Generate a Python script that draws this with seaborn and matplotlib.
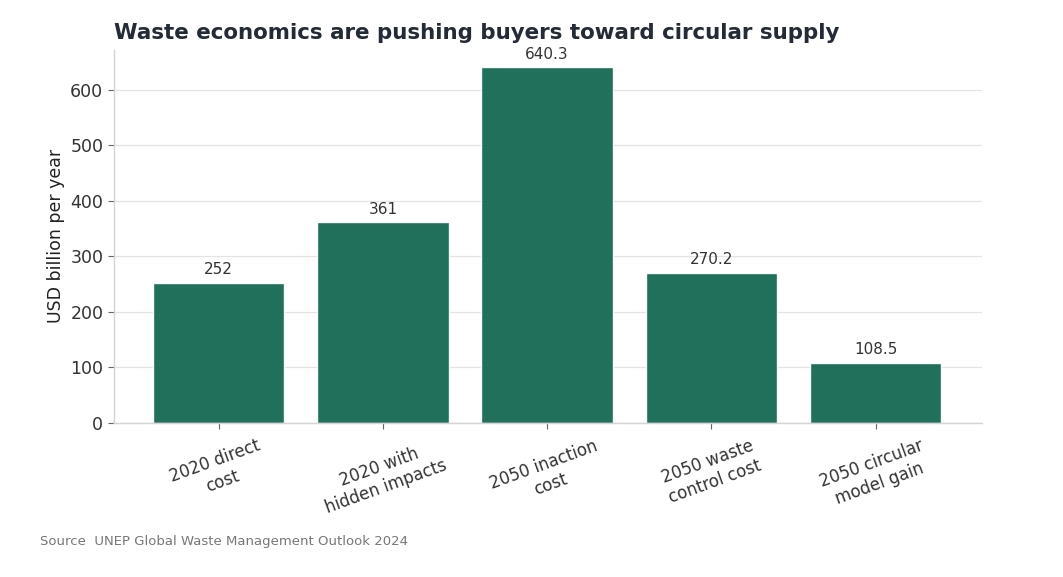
import matplotlib
matplotlib.use("Agg")
import matplotlib.pyplot as plt
import seaborn as sns
import pandas as pd

# ===================== Data =====================
categories = ["2020 direct\ncost", "2020 with\nhidden impacts", "2050 inaction\ncost",
              "2050 waste\ncontrol cost", "2050 circular\nmodel gain"]
values = [252, 361, 640.3, 270.2, 108.5]
value_labels = ["252", "361", "640.3", "270.2", "108.5"]

df = pd.DataFrame({"category": categories, "value": values})

# ===================== Style =====================
sns.set_theme(style="white")
plt.rcParams["font.family"] = ["DejaVu Sans"]

fig = plt.figure(figsize=(10.63, 5.77), dpi=100)
ax = fig.add_axes([0.107, 0.267, 0.817, 0.647])

bar_color = "#156853"
sns.barplot(data=df, x="category", y="value", color=bar_color, saturation=1,
            width=0.8, alpha=0.95, ax=ax)

# value labels above bars
for i, (v, lab) in enumerate(zip(values, value_labels)):
    ax.text(i, v + 10, lab, ha="center", va="bottom", fontsize=11, color="#333333")

ax.set_ylim(0, 672)
ax.set_xlim(-0.64, 4.65)
ax.set_yticks([0, 100, 200, 300, 400, 500, 600])

ax.yaxis.grid(True, color="#e3e3e3", linewidth=0.9)
ax.set_axisbelow(True)

for side in ["top", "right"]:
    ax.spines[side].set_visible(False)
for side in ["left", "bottom"]:
    ax.spines[side].set_color("#d4d4d4")
    ax.spines[side].set_linewidth(1.0)

ax.tick_params(axis="both", length=4, color="#666666", width=0.8, labelsize=12,
               labelcolor="#333333", bottom=True, left=True)
ax.tick_params(axis="y", labelsize=12.5)
ax.tick_params(axis="x", pad=6)
plt.setp(ax.get_xticklabels(), rotation=20, ha="center", rotation_mode="default")

ax.set_xlabel("")
ax.set_ylabel("USD billion per year", fontsize=12.5, color="#222222")

ax.set_title("Waste economics are pushing buyers toward circular supply",
             loc="left", fontsize=15.4, fontweight="bold", color="#232b36", pad=8)

fig.text(0.038, 0.055, "Source  UNEP Global Waste Management Outlook 2024",
         fontsize=9.5, color="#777777")

fig.savefig("out.png", dpi=100)
